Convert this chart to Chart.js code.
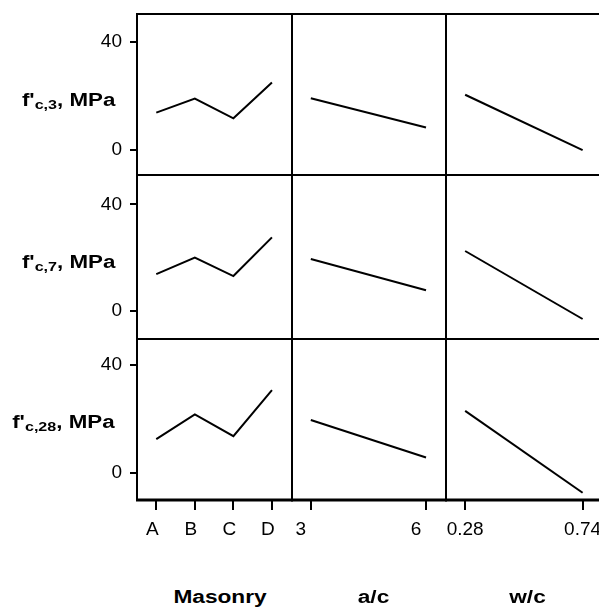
<!DOCTYPE html>
<html><head><meta charset="utf-8">
<script src="https://cdn.jsdelivr.net/npm/chart.js@4.4.1/dist/chart.umd.min.js"></script>
<style>
html,body{margin:0;padding:0;background:#fff;overflow:hidden}
#wrap{position:relative;width:599px;height:608px;overflow:hidden;background:#fff;font-family:"Liberation Sans",Arial,Helvetica,sans-serif;color:#000}
canvas{position:absolute}
.ylab{position:absolute;right:484px;width:140px;text-align:right;font-weight:bold;font-size:18px;line-height:18px;white-space:nowrap}
.ylab span.t{display:inline-block;transform:scaleX(1.24);transform-origin:100% 50%}
.ylab sub{font-size:13px;vertical-align:-3px;line-height:0}
.xlab{position:absolute;width:200px;text-align:center;font-weight:bold;font-size:18px;line-height:18px;top:588px;white-space:nowrap}
.xlab span{display:inline-block;transform:scaleX(1.26);transform-origin:50% 50%}
</style></head>
<body><div id="wrap"></div>
<script>
// ---- data ----
const masonryLabels = ['A', 'B', 'C', 'D'];
const masonryX = [0, 1, 2, 3];
const acX = [3, 6];
const wcX = [0.28, 0.74];
const acTicks = [3, 6];
const wcTicks = [0.28, 0.74];
const yTicks = [0, 40];
const rowSubs = ['c,3', 'c,7', 'c,28'];
const colTitles = ['Masonry', 'a/c', 'w/c'];

const fc3Masonry = [13.8, 19.0, 11.7, 24.9];
const fc7Masonry = [13.8, 20.0, 13.1, 27.6];
const fc28Masonry = [12.5, 21.7, 13.6, 30.7];
const fc3AC = [19.1, 8.3];
const fc7AC = [19.5, 7.8];
const fc28AC = [19.6, 5.7];
const fc3WC = [20.4, 0.0];
const fc7WC = [22.5, -3.0];
const fc28WC = [23.0, -7.4];

// ---- layout ----
const FONT = '"Liberation Sans", Arial, Helvetica, sans-serif';
const colEdges = [137, 292, 446, 601];
const rowEdges = [14, 175, 339, 500];
const xRanges = [[-0.5, 3.52], [2.51, 6.52], [0.205, 0.812]];
const yRanges = [[-9.2, 50.2], [-10.5, 51.0], [-10.1, 49.7]];
const labelOffsets = [-4, -10, 0];

const colX = [masonryX, acX, wcX];
const colTickVals = [masonryX, acTicks, wcTicks];
const colTickFmt = [
  v => masonryLabels[masonryX.indexOf(v)],
  v => String(v),
  v => v.toFixed(2)
];
const rows = [
  [fc3Masonry, fc3AC, fc3WC],
  [fc7Masonry, fc7AC, fc7WC],
  [fc28Masonry, fc28AC, fc28WC]
];

const wrap = document.getElementById('wrap');

const framePlugin = {
  id: 'frame',
  afterDraw(chart, args, opts) {
    const a = chart.chartArea, ctx = chart.ctx;
    ctx.save();
    ctx.strokeStyle = '#000';
    ctx.lineWidth = 2;
    ctx.strokeRect(a.left, a.top, a.right - a.left, a.bottom - a.top);
    if (opts.thickBottom) {
      ctx.lineWidth = 3;
      ctx.beginPath();
      ctx.moveTo(a.left - 1, a.bottom);
      ctx.lineTo(a.right + 1, a.bottom);
      ctx.stroke();
    }
    ctx.restore();
  }
};

function zeroPad(s) {
  s.paddingTop = 0; s.paddingBottom = 0; s.paddingLeft = 0; s.paddingRight = 0;
}

function panel(r, c) {
  const L = colEdges[c], R = colEdges[c + 1], T = rowEdges[r], B = rowEdges[r + 1];
  const showY = c === 0, showX = r === 2;
  const pad = 3, yW = 60, xH = 45;
  const left = L - pad - (showY ? yW : 0);
  const top = T - pad;
  const w = (R - L) + 2 * pad + (showY ? yW : 0);
  const h = (B - T) + 2 * pad + (showX ? xH : 0);
  const cv = document.createElement('canvas');
  cv.width = w; cv.height = h;
  cv.style.left = left + 'px'; cv.style.top = top + 'px';
  cv.style.width = w + 'px'; cv.style.height = h + 'px';
  wrap.appendChild(cv);
  const xs = colX[c], ys = rows[r][c];
  new Chart(cv.getContext('2d'), {
    type: 'line',
    data: { datasets: [{
      data: xs.map((x, i) => ({ x: x, y: ys[i] })),
      borderColor: '#000', borderWidth: 2, pointRadius: 0, tension: 0, fill: false
    }]},
    options: {
      responsive: false, animation: false, devicePixelRatio: 1,
      layout: { padding: pad },
      plugins: { legend: { display: false }, tooltip: { enabled: false }, frame: { thickBottom: showX } },
      scales: {
        x: {
          type: 'linear', min: xRanges[c][0], max: xRanges[c][1], display: showX,
          afterBuildTicks: s => { s.ticks = colTickVals[c].map(v => ({ value: v })); },
          afterFit: s => { s.height = showX ? xH : 0; zeroPad(s); },
          grid: { drawOnChartArea: false, drawTicks: true, tickLength: 10, color: '#000', lineWidth: 2 },
          border: { display: false },
          ticks: { color: '#000', font: { family: FONT, size: 19 }, padding: 8, autoSkip: false,
                   maxRotation: 0, minRotation: 0, labelOffset: labelOffsets[c],
                   callback: v => colTickFmt[c](v) }
        },
        y: {
          type: 'linear', min: yRanges[r][0], max: yRanges[r][1], display: showY,
          afterBuildTicks: s => { s.ticks = yTicks.map(v => ({ value: v })); },
          afterFit: s => { s.width = showY ? yW : 0; zeroPad(s); },
          grid: { drawOnChartArea: false, drawTicks: true, tickLength: 7, color: '#000', lineWidth: 2 },
          border: { display: false },
          ticks: { color: '#000', font: { family: FONT, size: 19 }, padding: 8 }
        }
      }
    },
    plugins: [framePlugin]
  });
}

for (let r = 0; r < 3; r++) for (let c = 0; c < 3; c++) panel(r, c);

// axis titles as text
const yLabTops = [91, 253, 413];
rowSubs.forEach((s, i) => {
  const d = document.createElement('div');
  d.className = 'ylab';
  d.style.top = yLabTops[i] + 'px';
  d.innerHTML = "<span class='t'>f'<sub>" + s + "</sub>, MPa</span>";
  wrap.appendChild(d);
});
const xLabCenters = [220, 374, 528];
colTitles.forEach((t, i) => {
  const d = document.createElement('div');
  d.className = 'xlab';
  d.style.left = (xLabCenters[i] - 100) + 'px';
  const sp = document.createElement('span');
  sp.textContent = t;
  d.appendChild(sp);
  wrap.appendChild(d);
});
</script>
</body></html>
